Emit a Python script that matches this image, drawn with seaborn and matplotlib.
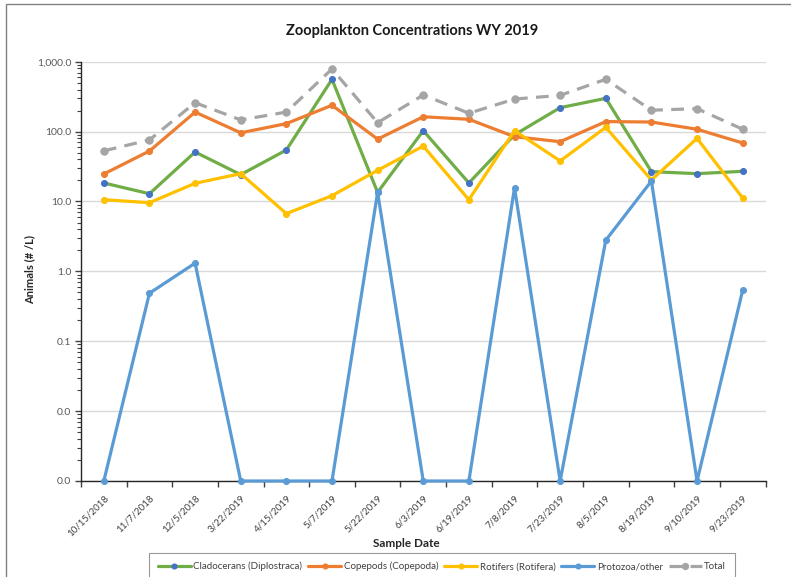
import numpy as np
import pandas as pd
import matplotlib
matplotlib.use("Agg")
import matplotlib.pyplot as plt
import seaborn as sns
from matplotlib.ticker import FuncFormatter, FixedLocator, LogLocator, NullFormatter
from matplotlib.patches import Rectangle

dates = ["10/15/2018", "11/7/2018", "12/5/2018", "3/22/2019", "4/15/2019", "5/7/2019",
         "5/22/2019", "6/3/2019", "6/19/2019", "7/8/2019", "7/23/2019", "8/5/2019",
         "8/19/2019", "9/10/2019", "9/23/2019"]

cladocerans = [18.4, 12.9, 51, 24.2, 54.5, 560, 13.5, 103, 18.4, 90, 220, 299, 26.7, 25, 27]
copepods = [24.7, 52.7, 190, 96, 130, 238, 78, 163, 150, 84.5, 71.7, 139, 137, 108, 68.7]
rotifers = [10.6, 9.6, 18.2, 25, 6.7, 12.1, 27.9, 62, 10.6, 103, 38, 115, 20.3, 80, 11.2]
protozoa = [0, 0.486, 1.31, 0, 0, 0, 13.5, 0, 0, 15.7, 0, 2.79, 19.6, 0, 0.537]
total = [53, 76, 259, 147, 190, 787, 134, 334, 183, 292, 330, 560, 202, 213, 108]

series_names = ["Cladocerans (Diplostraca)", "Copepods (Copepoda)", "Rotifers (Rotifera)",
                "Protozoa/other", "Total"]
series_values = [cladocerans, copepods, rotifers, protozoa, total]

line_colors = ["#70AD47", "#ED7D31", "#FFC000", "#5B9BD5", "#A5A5A5"]
marker_colors = ["#4472C4", "#ED7D31", "#FFC000", "#5B9BD5", "#A5A5A5"]

YMIN, YMAX = 0.001, 1000.0

sns.set_theme(style="white")
plt.rcParams["font.family"] = ["Lato", "DejaVu Sans"]

fig = plt.figure(figsize=(7.91, 5.77), dpi=100)
ax_w = (765.5 - 81) / 791
ax_h = (481 - 61.7) / 577
ax = fig.add_axes([81 / 791, 1 - 481 / 577, ax_w, ax_h])

for name, vals, lc, mc in zip(series_names, series_values, line_colors, marker_colors):
    v = np.array(vals, dtype=float)
    v = np.where(v <= 0, YMIN, v)  # zero values sit on the axis floor of the log scale
    df = pd.DataFrame({"date": dates, "value": v})
    kw = dict(dashes=(4, 2.6)) if name == "Total" else {}
    sns.lineplot(data=df, x="date", y="value", ax=ax, sort=False, color=lc, lw=2.3,
                 marker="o", markersize=4.3 if name != "Total" else 5.3,
                 markerfacecolor=mc, markeredgecolor=mc, label=name, clip_on=False,
                 zorder=3, **kw)

ax.set_yscale("log")
ax.set_ylim(YMIN, YMAX)
ax.set_xlim(-0.5, len(dates) - 0.5)
ax.yaxis.set_major_locator(FixedLocator([1e-3, 1e-2, 1e-1, 1, 10, 100, 1000]))
ax.yaxis.set_major_formatter(FuncFormatter(lambda v, p: f"{v:,.1f}"))
ax.yaxis.set_minor_locator(LogLocator(base=10, subs=np.arange(2, 10), numticks=20))
ax.yaxis.set_minor_formatter(NullFormatter())
ax.grid(axis="y", which="major", color="#D9D9D9", lw=1.0)
ax.set_axisbelow(True)

ax.set_xticks(range(len(dates)))
ax.set_xticklabels(dates, rotation=45, ha="right", rotation_mode="anchor",
                   fontsize=7, color="#404040")
ax.xaxis.set_minor_locator(FixedLocator(np.arange(-0.5, len(dates), 1.0)))
ax.tick_params(axis="x", which="major", length=0, pad=9)
ax.tick_params(axis="x", which="minor", length=4, width=1, color="#404040", direction="out", bottom=True)
ax.tick_params(axis="y", which="major", length=4, width=1, color="#404040", direction="out",
               labelsize=7.5, labelcolor="#595959", left=True, pad=3)
ax.tick_params(axis="y", which="minor", length=3, width=0.8, color="#404040", direction="out", left=True)

for s in ["top", "right"]:
    ax.spines[s].set_visible(False)
for s in ["left", "bottom"]:
    ax.spines[s].set_color("#262626")
    ax.spines[s].set_linewidth(1.0)

ax.set_xlabel("Sample Date", fontsize=8.5, fontweight="bold", color="#262626")
ax.set_ylabel("Animals (# /L)", fontsize=8, fontweight="bold", color="#262626")
ax.xaxis.set_label_coords((406 - 81) / (765.5 - 81), -(538 - 481) / (481 - 61.7))
ax.yaxis.set_label_coords((35 - 81) / (765.5 - 81), (481 - 270) / (481 - 61.7))

fig.text(412 / 791, 1 - 31 / 577, "Zooplankton Concentrations WY 2019", ha="center", va="center",
         fontsize=10.5, fontweight="bold", color="#1a1a1a")

leg = ax.legend(loc="upper center", bbox_to_anchor=(442 / 791, 1 - 548 / 577),
                bbox_transform=fig.transFigure, ncol=5, frameon=True, fancybox=False,
                fontsize=7, handlelength=3.4, columnspacing=0.6, handletextpad=0.25,
                borderpad=0.9, markerscale=0.85, edgecolor="#7f7f7f")
leg.get_frame().set_linewidth(0.8)
for t in leg.get_texts():
    t.set_color("#404040")

fig.patches.append(Rectangle((6 / 791, -0.1), 1.2, 1 - 4 / 577 + 0.1, transform=fig.transFigure,
                             fill=False, edgecolor="#808080", lw=1.0, zorder=0))

fig.savefig("out.png", dpi=100)
